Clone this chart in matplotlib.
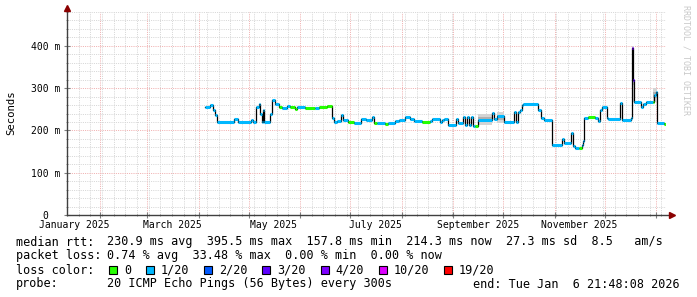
import numpy as np
import matplotlib
matplotlib.use("Agg")
import matplotlib.pyplot as plt
import matplotlib.dates as mdates
import matplotlib.ticker as mticker
import matplotlib.transforms as mtransforms
from matplotlib.patches import Rectangle
from datetime import datetime, timedelta

W, H = 697, 297
MONO = "DejaVu Sans Mono"

# ---- data ----
# days since 2025-01-01 where the median rtt steps to a new value
day_offset = [94.1, 97.1, 98.7, 99.6, 101.1, 111.0, 113.5, 121.7, 122.7, 124.7,
              126.1, 127.1, 128.1, 128.7, 129.5, 132.7, 134.1, 136.1, 138.1, 140.1,
              143.1, 145.1, 148.1, 149.1, 154.1, 160.1, 162.1, 167.1, 170.1, 171.5,
              173.1, 175.7, 176.7, 179.5, 183.1, 187.6, 190.7, 194.4, 195.6, 197.5,
              202.2, 204.1, 208.2, 210.2, 214.2, 216.8, 219.2, 224.2, 228.8, 230.2,
              234.8, 236.2, 237.2, 239.8, 244.8, 245.8, 249.2, 250.0, 251.6, 252.4,
              254.0, 254.8, 256.2, 257.8, 266.2, 267.6, 269.6, 273.6, 279.8, 280.8,
              281.9, 283.2, 284.3, 285.2, 293.9, 295.9, 297.8, 302.6, 308.6, 309.8,
              313.9, 314.9, 316.3, 318.7, 320.3, 321.3, 321.9, 323.9, 328.3, 329.9,
              331.1, 332.3, 335.3, 336.3, 343.1, 344.7, 349.9, 350.3, 351.3, 351.9,
              355.9, 357.3, 358.7, 363.3, 363.9, 364.7, 365.3, 369.9, 370.9]
# median rtt in ms for each step (last entry repeats the final value)
median_ms = [255, 259, 248, 237, 221, 227, 220, 224, 220, 256,
             262, 240, 221, 248, 221, 240, 271, 262, 256, 254,
             257, 256, 251, 255, 254, 252, 255, 258, 229, 219,
             222, 236, 224, 219, 218, 227, 224, 232, 217, 218,
             215, 217, 223, 225, 231, 227, 223, 221, 223, 227,
             221, 225, 227, 213, 228, 217, 232, 213, 232, 213,
             232, 211, 211, 225, 242, 227, 234, 221, 244, 221,
             244, 249, 261, 263, 248, 229, 225, 165, 180, 170,
             193, 163, 158, 159, 166, 174, 229, 232, 229, 223,
             249, 256, 229, 227, 264, 225, 229, 394, 320, 268,
             256, 262, 267, 268, 284, 292, 217, 215, 215]
# loss bucket index per step (0 -> "0", 1 -> "1/20", ...)
loss_bucket = [1, 1, 1, 1, 1, 1, 1, 1, 1, 1,
               1, 1, 1, 1, 1, 1, 1, 1, 0, 1,
               1, 0, 0, 1, 0, 1, 0, 0, 1, 1,
               1, 1, 1, 0, 1, 1, 1, 1, 0, 1,
               0, 1, 1, 1, 1, 1, 1, 0, 1, 1,
               1, 1, 1, 1, 1, 1, 1, 1, 1, 1,
               1, 1, 0, 1, 1, 1, 1, 1, 1, 1,
               1, 1, 1, 1, 1, 1, 1, 1, 1, 1,
               1, 1, 1, 0, 1, 1, 1, 0, 1, 1,
               1, 1, 1, 1, 1, 1, 1, 4, 3, 1,
               1, 1, 1, 0, 1, 1, 1, 0, 0]

# smoke (spread of the pings): start day, end day, low ms, high ms
smoke_start = [257.8, 269.6, 363.3, 350.3]
smoke_end = [266.2, 273.6, 365.3, 351.9]
smoke_low = [212, 218, 268, 268]
smoke_high = [240, 243, 300, 400]

loss_labels = ["0", "1/20", "2/20", "3/20", "4/20", "10/20", "19/20"]
loss_colors = ["#26ff00", "#00b8ff", "#0059ff", "#5e00ff", "#7e00ff", "#dd00ff", "#ff0000"]

month_labels = ["January 2025", "March 2025", "May 2025", "July 2025",
                "September 2025", "November 2025"]
label_dates = ["2025-01-16", "2025-03-16", "2025-05-16", "2025-07-16",
               "2025-09-16", "2025-11-16"]

stats_rtt = "230.9 ms avg  395.5 ms max  157.8 ms min  214.3 ms now  27.3 ms sd  8.5   am/s"
stats_loss = "0.74 % avg  33.48 % max  0.00 % min  0.00 % now"
probe_text = "20 ICMP Echo Pings (56 Bytes) every 300s"
end_text = "end: Tue Jan  6 21:48:08 2026"

END = datetime(2026, 1, 6, 21, 48, 8)
START = END - timedelta(days=360)
BASE = mdates.date2num(datetime(2025, 1, 1))


def fx(px):
    return px / W


def fy(py):
    return 1 - py / H


fig = plt.figure(figsize=(W / 100, H / 100), dpi=100)
fig.patch.set_facecolor("white")
ax = fig.add_axes([fx(67), fy(215), (666 - 67) / W, (215 - 12) / H])

t = BASE + np.array(day_offset)
v = np.array(median_ms, dtype=float)

# smoke
for s0, s1, lo, hi in zip(smoke_start, smoke_end, smoke_low, smoke_high):
    ax.fill_between([BASE + s0, BASE + s1], lo, hi, color="#d4d4d4", lw=0, zorder=2)
    mid = (lo + hi) / 2
    ax.fill_between([BASE + s0, BASE + s1], mid - (hi - lo) / 5, mid + (hi - lo) / 5,
                    color="#b0b0b0", lw=0, zorder=2)

# black median step line
ax.step(t, v, where="post", color="black", lw=0.9, zorder=3)
# coloured horizontal pieces by loss
for i in range(len(t) - 1):
    ax.hlines(v[i], t[i], t[i + 1], color=loss_colors[loss_bucket[i]], lw=2.2, zorder=4)

ax.set_xlim(mdates.date2num(START), mdates.date2num(END))
ax.set_ylim(0, 480)

# grid
ax.xaxis.set_major_locator(mdates.MonthLocator())
ax.xaxis.set_minor_locator(mdates.WeekdayLocator(byweekday=mdates.SU))
ax.yaxis.set_major_locator(mticker.MultipleLocator(100))
ax.yaxis.set_minor_locator(mticker.MultipleLocator(20))
ax.grid(which="minor", color="#d6d6d6", lw=0.72, ls=(0, (1, 1.2)), zorder=0)
ax.grid(which="major", color="#f0b0b0", lw=0.72, ls=(0, (1, 1.2)), zorder=1)
ax.set_axisbelow(True)
ax.set_xticklabels([])
ax.yaxis.set_major_formatter(mticker.FuncFormatter(
    lambda y, p: "0  " if y == 0 else "%d m" % y))
ax.tick_params(axis="both", which="both", color="#808080", direction="inout")
ax.tick_params(axis="y", which="major", length=4, pad=2.5, labelsize=7, labelcolor="black")
ax.tick_params(axis="y", which="minor", length=2)
ax.tick_params(axis="x", which="major", length=4)
ax.tick_params(axis="x", which="minor", length=2)
for lab in ax.get_yticklabels():
    lab.set_family(MONO)
for sp in ax.spines.values():
    sp.set_visible(False)

# axes lines with arrows
ax.plot([0, 1.008], [0, 0], transform=ax.transAxes, color="#404040", lw=1, clip_on=False, zorder=5)
ax.plot([0, 0], [0, 1.015], transform=ax.transAxes, color="#404040", lw=1, clip_on=False, zorder=5)
ax.plot([1.01], [0], marker=">", ms=4, color="#8b0000", transform=ax.transAxes, clip_on=False, zorder=6)
ax.plot([0], [1.018], marker="^", ms=4, color="#8b0000", transform=ax.transAxes, clip_on=False, zorder=6)

# month labels
xt = mtransforms.blended_transform_factory(ax.transData, fig.transFigure)
for lab, d in zip(month_labels, label_dates):
    ax.text(mdates.datestr2num(d), fy(224.5), lab, transform=xt,
            ha="center", va="center", family=MONO, fontsize=7)

fig.text(fx(11), fy(113), "Seconds", rotation=90, ha="center", va="center",
         family=MONO, fontsize=7.7)
fig.text(fx(686), fy(60), "RRDTOOL / TOBI OETIKER", rotation=270, ha="center", va="center",
         family=MONO, fontsize=6, color="#c8c8c8")

# legend rows
LS = 8.45
rows = [("median rtt:", stats_rtt, 245.5), ("packet loss:", stats_loss, 259.5)]
for head, body, base in rows:
    fig.text(fx(16), fy(base), head, family=MONO, fontsize=LS, va="baseline")
    fig.text(fx(107), fy(base), body, family=MONO, fontsize=LS, va="baseline")

fig.text(fx(16), fy(273.5), "loss color:", family=MONO, fontsize=LS, va="baseline")
x = 109
cw = 7.05
for lab, col in zip(loss_labels, loss_colors):
    fig.patches.append(Rectangle((fx(x), fy(273.5)), 8 / W, 8 / H, transform=fig.transFigure,
                                 facecolor=col, edgecolor="black", lw=0.8))
    fig.text(fx(x + 15), fy(273.5), lab, family=MONO, fontsize=LS, va="baseline")
    x += 15 + len(lab) * cw + 15

fig.text(fx(16), fy(287.5), "probe:", family=MONO, fontsize=LS, va="baseline")
fig.text(fx(107), fy(287.5), probe_text, family=MONO, fontsize=LS, va="baseline")
fig.text(fx(680), fy(287.5), end_text, family=MONO, fontsize=LS, va="baseline", ha="right")

fig.savefig("out.png", dpi=100)
